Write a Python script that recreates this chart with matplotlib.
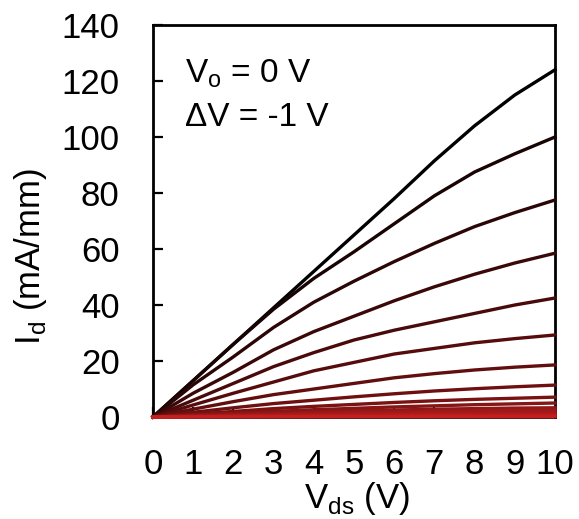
import numpy as np
import matplotlib.pyplot as plt
from matplotlib.colors import LinearSegmentedColormap

plt.rcParams['font.family'] = ['Liberation Sans', 'DejaVu Sans']
plt.rcParams['mathtext.fontset'] = 'custom'
plt.rcParams['mathtext.rm'] = 'Liberation Sans'

# drain voltage sweep
vds = [0, 1, 2, 3, 4, 5, 6, 7, 8, 9, 10]

# Id (mA/mm) for each gate step, Vg = 0 V down in -1 V steps
id_curves = [
    [0, 13.0, 26.0, 39.0, 52.0, 65.0, 78.0, 91.5, 104.0, 115.0, 124.0],
    [0, 13.0, 26.0, 38.5, 49.5, 59.0, 69.0, 79.0, 87.5, 94.0, 100.0],
    [0, 11.5, 21.5, 32.0, 41.0, 48.5, 55.5, 62.0, 68.0, 73.0, 77.5],
    [0, 8.5, 16.0, 24.0, 30.5, 36.0, 41.5, 46.5, 51.0, 55.0, 58.5],
    [0, 6.0, 12.0, 18.0, 23.0, 27.5, 31.0, 34.0, 37.0, 40.0, 42.5],
    [0, 4.3, 8.5, 12.5, 16.5, 19.5, 22.5, 24.5, 26.5, 28.0, 29.3],
    [0, 2.8, 5.5, 8.0, 10.0, 12.0, 14.0, 15.5, 16.8, 17.8, 18.6],
    [0, 1.7, 3.3, 4.8, 6.0, 7.2, 8.3, 9.3, 10.1, 10.8, 11.4],
    [0, 1.0, 2.0, 3.0, 3.8, 4.5, 5.2, 5.8, 6.3, 6.7, 7.1],
    [0, 0.7, 1.4, 2.0, 2.6, 3.1, 3.6, 4.0, 4.4, 4.7, 5.0],
    [0, 0.5, 1.0, 1.4, 1.8, 2.2, 2.5, 2.8, 3.0, 3.2, 3.3],
    [0, 0.35, 0.7, 1.0, 1.3, 1.6, 1.8, 2.0, 2.2, 2.3, 2.4],
    [0, 0.25, 0.5, 0.7, 0.9, 1.1, 1.2, 1.35, 1.45, 1.55, 1.6],
    [0, 0.15, 0.3, 0.4, 0.5, 0.6, 0.7, 0.75, 0.8, 0.85, 0.9],
    [0, 0.08, 0.15, 0.2, 0.25, 0.3, 0.32, 0.35, 0.37, 0.4, 0.4],
    [0, 0.02, 0.04, 0.05, 0.06, 0.07, 0.08, 0.08, 0.09, 0.1, 0.1],
]

yticks = [0, 20, 40, 60, 80, 100, 120, 140]

fig = plt.figure(figsize=(5.79, 5.19), dpi=100)
ax = fig.add_axes([0.2642, 0.1965, 0.6943, 0.7553])

cmap = LinearSegmentedColormap.from_list('br', ['#000000', '#620e0e', '#c42020'])
n = len(id_curves)
for i, cur in enumerate(id_curves):
    ax.plot(vds, cur, color=cmap((i / (n - 1)) ** 0.75), lw=2.4, zorder=3,
            clip_on=False, solid_joinstyle='round')

ax.set_xlim(0, 10)
ax.set_ylim(0, 140)
ax.set_xticks(vds)
ax.set_yticks(yticks)
ax.tick_params(axis='both', direction='in', labelsize=25, width=1.6)
ax.tick_params(axis='y', length=7.5, pad=24)
ax.tick_params(axis='x', length=7.5, pad=22)
for s in ax.spines.values():
    s.set_linewidth(2.0)

ax.set_xlabel('V$_{\\mathregular{ds}}$ (V)', fontsize=25, va='center')
ax.xaxis.set_label_coords(0.507, -0.207)
ax.set_ylabel('I$_{\\mathregular{d}}$ (mA/mm)', fontsize=25, va='center')
ax.yaxis.set_label_coords(-0.305, 0.41)

ax.text(0.08, 0.854, 'V$_{\\mathregular{o}}$ = 0 V', transform=ax.transAxes,
        fontsize=24, va='baseline')
ax.text(0.08, 0.742, '\u0394V = -1 V', transform=ax.transAxes,
        fontsize=24, va='baseline')

fig.savefig('out.png', dpi=100)
